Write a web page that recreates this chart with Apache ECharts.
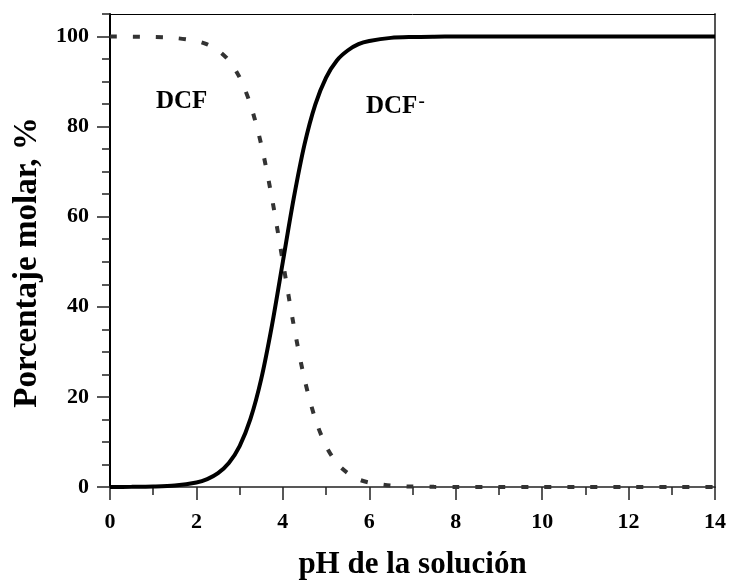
<!DOCTYPE html>
<html>
<head>
<meta charset="utf-8">
<script src="https://cdn.jsdelivr.net/npm/echarts@6/dist/echarts.min.js"></script>
<style>
html,body{margin:0;padding:0;background:#fff;}
#chart{width:729px;height:585px;}
</style>
</head>
<body>
<div id="chart"></div>
<script>
// pH values (x)
const pH = [0, 0.5, 1, 1.5, 2, 2.25, 2.5, 2.75, 3, 3.25, 3.5, 3.75, 4, 4.25, 4.5, 4.75, 5, 5.25, 5.5, 5.75, 6, 6.5, 7, 7.5, 8, 9, 10, 11, 12, 13, 14];
// DCF- molar percentage (solid curve)
const dcfAnion = [0.01, 0.03, 0.1, 0.32, 0.99, 1.75, 3.07, 5.32, 9.09, 15.1, 24.0, 36.0, 50.0, 64.0, 76.0, 84.9, 90.9, 94.7, 96.9, 98.3, 99.0, 99.7, 99.9, 99.97, 99.99, 100, 100, 100, 100, 100, 100];
// DCF molar percentage (dotted curve)
const dcfNeutral = [99.99, 99.97, 99.9, 99.68, 99.01, 98.25, 96.93, 94.68, 90.91, 84.9, 76.0, 64.0, 50.0, 36.0, 24.0, 15.1, 9.1, 5.3, 3.1, 1.7, 1.0, 0.3, 0.1, 0.03, 0.01, 0, 0, 0, 0, 0, 0];
// tick labels
const yMajorTicks = [0, 20, 40, 60, 80, 100];
const yMinorTicks = [5, 10, 15, 25, 30, 35, 45, 50, 55, 65, 70, 75, 85, 90, 95, 105];

const serif = '"Liberation Serif", "Times New Roman", serif';
const pairs = (xs, ys) => xs.map((x, i) => [x, ys[i]]);

const chart = echarts.init(document.getElementById('chart'), null, {renderer: 'canvas'});
chart.setOption({
  animation: false,
  backgroundColor: '#fff',
  grid: {left: 110, right: 13, top: 14, bottom: 93, containLabel: false},
  xAxis: [{
    type: 'value', min: 0, max: 14, interval: 2, position: 'bottom',
    name: 'pH de la solución', nameLocation: 'middle', nameGap: 62,
    nameTextStyle: {fontFamily: serif, fontWeight: 'bold', fontSize: 31, color: '#000'},
    axisLine: {show: true, onZero: false, lineStyle: {color: '#222', width: 1.5}},
    axisTick: {show: true, inside: false, length: 13, lineStyle: {color: '#222', width: 1.5}},
    minorTick: {show: true, splitNumber: 2, length: 8, lineStyle: {color: '#222', width: 1.5}},
    splitLine: {show: false},
    axisLabel: {margin: 24, fontFamily: serif, fontWeight: 'bold', fontSize: 22, color: '#000'}
  }, {
    type: 'value', min: 0, max: 14, position: 'top',
    axisLine: {show: true, onZero: false, lineStyle: {color: '#000', width: 1}},
    axisTick: {show: false}, axisLabel: {show: false}, splitLine: {show: false}
  }],
  yAxis: [{
    type: 'value', min: 0, max: 105, position: 'left',
    name: 'Porcentaje molar, %', nameLocation: 'middle', nameGap: 66,
    nameTextStyle: {fontFamily: serif, fontWeight: 'bold', fontSize: 33, color: '#000', padding: [0, 24, 0, 0]},
    axisLine: {show: true, onZero: false, lineStyle: {color: '#000', width: 2}},
    axisTick: {show: true, inside: false, length: 13, customValues: yMajorTicks, lineStyle: {color: '#222', width: 1.5}},
    splitLine: {show: false},
    axisLabel: {margin: 21, customValues: yMajorTicks, fontFamily: serif, fontWeight: 'bold', fontSize: 22, color: '#000'}
  }, {
    type: 'value', min: 0, max: 105, position: 'left',
    axisLine: {show: false},
    axisTick: {show: true, inside: false, length: 8, customValues: yMinorTicks, lineStyle: {color: '#222', width: 1.5}},
    axisLabel: {show: false}, splitLine: {show: false}
  }, {
    type: 'value', min: 0, max: 105, position: 'right',
    axisLine: {show: true, onZero: false, lineStyle: {color: '#555', width: 2}},
    axisTick: {show: false}, axisLabel: {show: false}, splitLine: {show: false}
  }],
  series: [{
    name: 'DCF', type: 'line', xAxisIndex: 0, yAxisIndex: 0,
    data: pairs(pH, dcfNeutral), showSymbol: false, smooth: 0.3,
    lineStyle: {color: '#333', width: 4, type: [7, 16], cap: 'butt'}
  }, {
    name: 'DCF-', type: 'line', xAxisIndex: 0, yAxisIndex: 0,
    data: pairs(pH, dcfAnion), showSymbol: false, smooth: 0.3,
    lineStyle: {color: '#000', width: 4, type: 'solid'}
  }],
  graphic: [{
    type: 'text', left: 156, top: 89,
    style: {text: 'DCF', fontFamily: serif, fontWeight: 'bold', fontSize: 25, fill: '#000'}
  }, {
    type: 'text', left: 366, top: 93,
    style: {
      text: '{a|DCF}{s|-}',
      rich: {
        a: {fontFamily: serif, fontWeight: 'bold', fontSize: 25, fill: '#000', lineHeight: 27},
        s: {fontFamily: serif, fontWeight: 'bold', fontSize: 19, fill: '#000', verticalAlign: 'top', padding: [0, 0, 6, 1]}
      }
    }
  }]
});
</script>
</body>
</html>
